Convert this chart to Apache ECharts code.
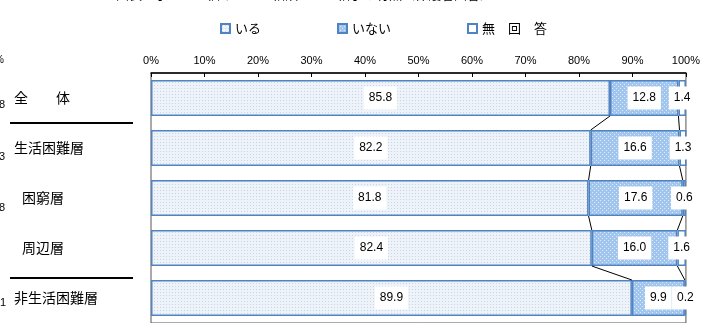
<!DOCTYPE html>
<html>
<head>
<meta charset="utf-8">
<script src="https://cdn.jsdelivr.net/npm/echarts@6/dist/echarts.min.js"></script>
<style>
  html, body { margin: 0; padding: 0; background: #fff; }
  #chart { width: 703px; height: 323px; }
</style>
</head>
<body>
<div id="chart"></div>
<script>
// Groups (top to bottom) and whether the label is indented as a sub-group
const categories = ['全　　体', '生活困難層', '困窮層', '周辺層', '非生活困難層'];
const indented = [false, false, true, true, false];

// Shares (%) per answer
const seriesNames = ['いる', 'いない', '無　回　答'];
const valueIru = [85.8, 82.2, 81.8, 82.4, 89.9];
const valueInai = [12.8, 16.6, 17.6, 16.0, 9.9];
const valueNoAnswer = [1.4, 1.3, 0.6, 1.6, 0.2];

// Percent axis
const axisMin = 0;
const axisMax = 100;
const axisStep = 10;

const BLUE_EDGE = '#4F83C2';
const CJK = '"Noto Sans CJK JP", "Noto Sans", sans-serif';
const NUM = '"Liberation Sans", Arial, sans-serif';

// Small tiled dot patterns used as bar fills
function dotPattern(size, bg, dot, dots) {
  const c = document.createElement('canvas');
  c.width = size; c.height = size;
  const g = c.getContext('2d');
  g.fillStyle = bg; g.fillRect(0, 0, size, size);
  g.fillStyle = dot;
  dots.forEach(([x, y]) => g.fillRect(x, y, 1, 1));
  return { image: c, repeat: 'repeat' };
}
const fillIru = dotPattern(3, '#EEF3F9', '#C6D5E7', [[1, 1]]);
const fillInai = dotPattern(4, '#A2C5EE', '#DDEAF9', [[0, 0], [2, 2]]);

// Boundaries between stacked segments, used for the connector lines
const cum1 = valueIru.slice();
const cum2 = valueIru.map((v, i) => v + valueInai[i]);
const connectorData = [];
[cum1, cum2].forEach(cum => {
  for (let i = 0; i < cum.length - 1; i++) {
    connectorData.push([cum[i], i, cum[i + 1], i + 1]);
  }
});

const BAR_RATIO = 0.72;

const valueLabel = {
  show: true,
  position: 'inside',
  color: '#000',
  fontFamily: NUM,
  fontSize: 12,
  backgroundColor: '#fff',
  padding: [6, 5, 5, 5],
  formatter: p => p.value.toFixed(1)
};

function barSeries(name, data, fill) {
  return {
    name: name,
    type: 'bar',
    stack: 'total',
    barWidth: (BAR_RATIO * 100) + '%',
    data: data,
    itemStyle: { color: fill, borderColor: BLUE_EDGE, borderWidth: 1.5 },
    label: valueLabel,
    emphasis: { disabled: true },
    z: 2
  };
}

const chart = echarts.init(document.getElementById('chart'), null, { renderer: 'canvas' });

chart.setOption({
  animation: false,
  backgroundColor: '#fff',
  grid: {
    left: 151, right: 12, top: 73, bottom: -6,
    show: true, borderColor: '#555', borderWidth: 1
  },
  legend: {
    data: seriesNames,
    top: 17, left: 215,
    icon: 'rect',
    itemWidth: 9, itemHeight: 9,
    itemGap: 76,
    textStyle: { fontFamily: CJK, fontSize: 13, color: '#000' },
    selectedMode: false
  },
  xAxis: {
    type: 'value',
    position: 'top',
    min: axisMin, max: axisMax, interval: axisStep,
    axisLine: { show: true, lineStyle: { color: '#000', width: 1.5 } },
    axisTick: { show: true, inside: true, length: 4, lineStyle: { color: '#000' } },
    splitLine: { show: false },
    axisLabel: {
      formatter: '{value}%',
      fontFamily: '"Liberation Sans Narrow", "Liberation Sans", sans-serif',
      fontSize: 11, color: '#000', margin: 7
    }
  },
  yAxis: {
    type: 'category',
    inverse: true,
    data: categories,
    axisLine: { show: false },
    axisTick: { show: false },
    axisLabel: {
      align: 'left',
      margin: 137,
      color: '#000',
      fontFamily: CJK,
      fontSize: 14,
      formatter: (v, i) => indented[i] ? '{ind|' + v + '}' : v,
      rich: { ind: { padding: [0, 0, 0, 8], fontFamily: CJK, fontSize: 14, color: '#000' } }
    }
  },
  series: [
    barSeries(seriesNames[0], valueIru, fillIru),
    barSeries(seriesNames[1], valueInai, fillInai),
    barSeries(seriesNames[2], valueNoAnswer, '#fff'),
    {
      type: 'custom',
      name: 'connectors',
      data: connectorData,
      encode: { x: [0, 2], y: [1, 3] },
      silent: true,
      z: 5,
      renderItem: (params, api) => {
        const a = api.coord([api.value(0), api.value(1)]);
        const b = api.coord([api.value(2), api.value(3)]);
        const half = api.size([0, 1])[1] * BAR_RATIO / 2;
        return {
          type: 'line',
          shape: { x1: a[0], y1: a[1] + half, x2: b[0], y2: b[1] - half },
          style: { stroke: '#000', lineWidth: 1 }
        };
      }
    }
  ],
  graphic: [
    // group separators in the label column
    { type: 'line', shape: { x1: 10, y1: 123, x2: 133, y2: 123 }, style: { stroke: '#000', lineWidth: 2 } },
    { type: 'line', shape: { x1: 10, y1: 278, x2: 133, y2: 278 }, style: { stroke: '#000', lineWidth: 2 } },
    // partially visible heading at the top edge
    { type: 'text', left: 116, top: -12, style: { text: '図表　子どもが悩みごとを相談できる相手の有無（保護者回答）', font: '13px ' + CJK, fill: '#000' } },
    // edge of the neighbouring column on the left
    { type: 'text', left: -5, top: 55, style: { text: '%', font: '10px ' + NUM, fill: '#000' } },
    { type: 'text', left: -1, top: 99, style: { text: '8', font: '11px ' + NUM, fill: '#000' } },
    { type: 'text', left: -1, top: 151, style: { text: '3', font: '11px ' + NUM, fill: '#000' } },
    { type: 'text', left: -1, top: 202, style: { text: '8', font: '11px ' + NUM, fill: '#000' } },
    { type: 'text', left: 0, top: 297, style: { text: '1', font: '11px ' + NUM, fill: '#000' } }
  ]
});
</script>
</body>
</html>
